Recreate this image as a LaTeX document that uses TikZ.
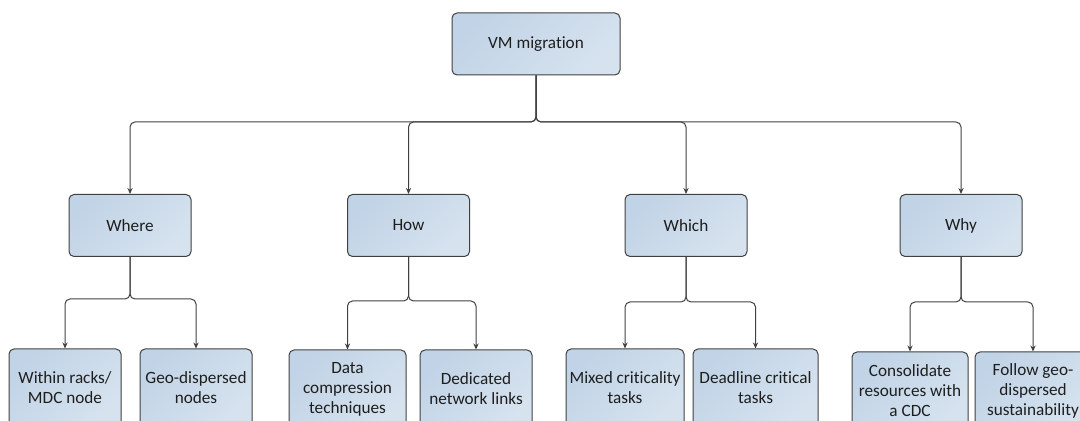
\documentclass[tikz,border=0pt]{standalone}
\usepackage{fontspec}
\setmainfont{Carlito}[Ligatures={NoCommon}]
\usetikzlibrary{arrows.meta}
\definecolor{boxA}{RGB}{193,211,230}
\definecolor{boxB}{RGB}{214,227,239}
\definecolor{edgec}{RGB}{64,64,64}
\definecolor{txt}{RGB}{30,30,30}
\begin{document}
\begin{tikzpicture}[x=0.5pt,y=-0.5pt,
  box/.style={draw=edgec, line width=0.5pt, rounded corners=2.5pt,
    top color=boxA, bottom color=boxB, shading angle=45,
    align=center, font=\fontsize{8.6}{10}\selectfont, text=txt, inner sep=0pt},
  mid/.style={box, minimum width=61pt, minimum height=31pt},
  leaf/.style={box, minimum height=39pt},
  conn/.style={draw=edgec, line width=0.5pt, rounded corners=2.5pt,
    -{Stealth[length=3pt,width=2.6pt]}}]
\useasboundingbox (0,0) rectangle (1080,421);
\clip (0,0) rectangle (1080,421);
% nodes
\node[box, minimum width=84pt, minimum height=31pt] (root) at (536,44) {VM migration};
\node[mid] (where) at (130,225.5) {Where};
\node[mid] (how) at (408.5,225.5) {How};
\node[mid] (which) at (686,225.5) {Which};
\node[mid] (why) at (961,225.5) {Why};
\node[leaf, minimum width=56pt] (w1) at (65,388) {Within racks/\\MDC node};
\node[leaf, minimum width=56pt] (w2) at (196,388) {Geo-dispersed\\nodes};
\node[leaf, minimum width=58.5pt] (h1) at (347.5,389) {Data\\compression\\techniques};
\node[leaf, minimum width=56pt] (h2) at (476,389) {Dedicated\\network links};
\node[leaf, minimum width=59pt] (c1) at (625,388) {Mixed criticality\\tasks};
\node[leaf, minimum width=62.5pt] (c2) at (755.5,388) {Deadline critical\\tasks};
\node[leaf, minimum width=58pt] (y1) at (910,391) {Consolidate\\resources with\\a CDC};
\node[leaf, minimum width=58pt] (y2) at (1033,391) {Follow geo-\\dispersed\\sustainability};
% junctions
\coordinate (j0) at (536,122);
\coordinate (j1) at (130,299);
\coordinate (j2) at (408.5,301);
\coordinate (j3) at (686,302);
\coordinate (j4) at (961,302);
% connectors
\foreach \c in {where,how,which,why}{\draw[conn] (root.south) -- (j0) -| (\c.north);}
\draw[conn] (where.south) -- (j1) -| (w1.north);
\draw[conn] (where.south) -- (j1) -| (w2.north);
\draw[conn] (how.south) -- (j2) -| (h1.north);
\draw[conn] (how.south) -- (j2) -| (h2.north);
\draw[conn] (which.south) -- (j3) -| (c1.north);
\draw[conn] (which.south) -- (j3) -| (c2.north);
\draw[conn] (why.south) -- (j4) -| (y1.north);
\draw[conn] (why.south) -- (j4) -| (y2.north);
\end{tikzpicture}
\end{document}
